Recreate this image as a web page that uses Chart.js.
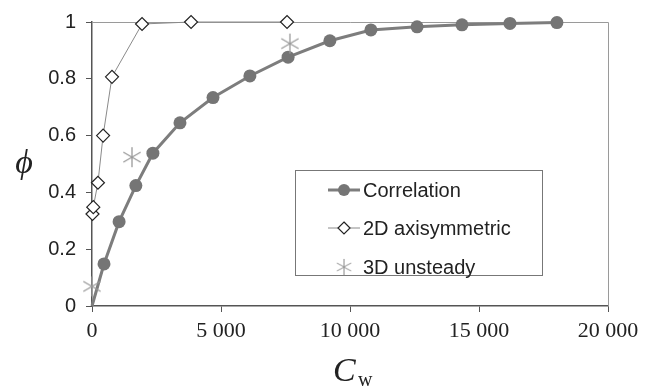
<!DOCTYPE html>
<html>
<head>
<meta charset="utf-8">
<script src="https://cdn.jsdelivr.net/npm/chart.js@4/dist/chart.umd.min.js"></script>
<style>
  html, body { margin: 0; padding: 0; background: #fff; }
  #wrap { width: 649px; height: 389px; }
</style>
</head>
<body>
<div id="wrap"><canvas id="phiChart" width="649" height="389"></canvas></div>
<script>
// series values
const corrX = [0, 465, 1050, 1700, 2360, 3410, 4690, 6120, 7600, 9220, 10810, 12600, 14340, 16200, 18020];
const corrY = [0, 0.148, 0.297, 0.424, 0.538, 0.645, 0.734, 0.81, 0.876, 0.934, 0.972, 0.983, 0.99, 0.995, 0.998];
const axiX = [20, 50, 230, 430, 775, 1940, 3840, 7560];
const axiY = [0.324, 0.348, 0.434, 0.6, 0.807, 0.993, 1, 1];
const unsX = [0, 1550, 7670];
const unsY = [0.069, 0.524, 0.924];
const seriesNames = ["Correlation", "2D axisymmetric", "3D unsteady"];
const xTicks = [0, 5000, 10000, 15000, 20000];
const yTicks = [0, 0.2, 0.4, 0.6, 0.8, 1];

const toPoints = (xs, ys) => xs.map((x, i) => ({ x, y: ys[i] }));

// 6-armed asterisk used for the 3D unsteady markers
function makeAsterisk(size, color) {
  const c = document.createElement("canvas");
  c.width = size; c.height = size;
  const g = c.getContext("2d");
  const r = size / 2 - 1;
  g.strokeStyle = color;
  g.lineWidth = 1.3;
  g.beginPath();
  [90, 30, 150].forEach(deg => {
    const a = deg * Math.PI / 180;
    g.moveTo(size / 2 - r * Math.cos(a), size / 2 - r * Math.sin(a));
    g.lineTo(size / 2 + r * Math.cos(a), size / 2 + r * Math.sin(a));
  });
  g.stroke();
  return c;
}
const asterisk = makeAsterisk(22, "#9a9a9a");

const corrColor = "#7d7d7d";
const axiLine = "#8a8a8a";

// frame, custom legend and math-style titles
const decorPlugin = {
  id: "decor",
  beforeDatasetsDraw(chart) {
    const { ctx, chartArea: { left, right, top, bottom } } = chart;
    ctx.save();
    ctx.strokeStyle = "#9a9a9a";
    ctx.lineWidth = 1;
    ctx.beginPath();
    ctx.moveTo(left, top + 0.5);
    ctx.lineTo(right + 0.5, top + 0.5);
    ctx.lineTo(right + 0.5, bottom);
    ctx.stroke();
    ctx.restore();
  },
  afterDraw(chart) {
    const { ctx, chartArea: { left, right, top, bottom } } = chart;
    ctx.save();

    // legend box
    const bx = 295, by = 170, bw = 247, bh = 105;
    ctx.fillStyle = "#fff";
    ctx.fillRect(bx, by, bw, bh);
    ctx.strokeStyle = "#777";
    ctx.lineWidth = 1;
    ctx.strokeRect(bx + 0.5, by + 0.5, bw, bh);

    const rows = [190, 228, 267];
    const sx0 = 328, sx1 = 360, mx = 344;
    // correlation sample
    ctx.strokeStyle = corrColor;
    ctx.lineWidth = 3;
    ctx.beginPath(); ctx.moveTo(sx0, rows[0]); ctx.lineTo(sx1, rows[0]); ctx.stroke();
    ctx.fillStyle = "#757575";
    ctx.beginPath(); ctx.arc(mx, rows[0], 6, 0, Math.PI * 2); ctx.fill();
    // 2D sample
    ctx.strokeStyle = axiLine;
    ctx.lineWidth = 1;
    ctx.beginPath(); ctx.moveTo(sx0, rows[1]); ctx.lineTo(sx1, rows[1]); ctx.stroke();
    ctx.fillStyle = "#fff";
    ctx.strokeStyle = "#222";
    ctx.lineWidth = 1.2;
    ctx.beginPath();
    ctx.moveTo(mx, rows[1] - 6); ctx.lineTo(mx + 6, rows[1]);
    ctx.lineTo(mx, rows[1] + 6); ctx.lineTo(mx - 6, rows[1]);
    ctx.closePath(); ctx.fill(); ctx.stroke();
    // 3D sample
    ctx.drawImage(asterisk, mx - 9, rows[2] - 9, 18, 18);

    ctx.fillStyle = "#222";
    ctx.font = '20px "Liberation Sans", Arial, sans-serif';
    ctx.textBaseline = "middle";
    ctx.textAlign = "left";
    seriesNames.forEach((name, i) => ctx.fillText(name, 363, rows[i] + 1));

    // y title: phi
    ctx.font = 'italic 34px "Liberation Serif", "DejaVu Serif", serif';
    ctx.textAlign = "center";
    ctx.fillText("\u03D5", 24, (top + bottom) / 2);

    // x title: C_w
    ctx.font = 'italic 34px "Liberation Serif", serif';
    ctx.textAlign = "left";
    ctx.textBaseline = "alphabetic";
    ctx.fillText("C", 333, 381);
    ctx.font = '20px "Liberation Serif", serif';
    ctx.fillText("w", 358, 386);

    ctx.restore();
  }
};

new Chart(document.getElementById("phiChart"), {
  type: "scatter",
  data: {
    datasets: [
      {
        label: seriesNames[0],
        data: toPoints(corrX, corrY),
        showLine: true,
        clip: false,
        borderColor: corrColor,
        borderWidth: 3,
        backgroundColor: "#757575",
        pointBorderColor: "#757575",
        pointRadius: c => (c.dataIndex === 0 ? 0 : 6.5),
        pointBorderWidth: 0,
        tension: 0,
        order: 3
      },
      {
        label: seriesNames[1],
        data: toPoints(axiX, axiY),
        showLine: true,
        clip: false,
        borderColor: axiLine,
        borderWidth: 1,
        pointStyle: "rectRot",
        pointRadius: 6.5,
        pointBackgroundColor: "#fff",
        pointBorderColor: "#222",
        pointBorderWidth: 1.2,
        order: 2
      },
      {
        label: seriesNames[2],
        data: toPoints(unsX, unsY),
        showLine: false,
        clip: false,
        pointStyle: asterisk,
        pointRadius: 11,
        order: 1
      }
    ]
  },
  options: {
    responsive: false,
    animation: false,
    layout: { padding: { top: 16, right: 41, left: 0, bottom: 0 } },
    plugins: {
      legend: { display: false },
      tooltip: { enabled: false }
    },
    scales: {
      x: {
        type: "linear",
        min: xTicks[0],
        max: xTicks[xTicks.length - 1],
        afterBuildTicks: s => { s.ticks = xTicks.map(v => ({ value: v })); },
        afterFit: s => { s.height = 83; },
        grid: { drawOnChartArea: false, drawTicks: true, tickLength: 6, color: "#555" },
        border: { display: true, color: "#555", width: 1.5 },
        ticks: {
          color: "#222",
          padding: 6,
          font: { family: '"Liberation Serif", "Times New Roman", serif', size: 22 },
          callback: v => String(v).replace(/\B(?=(\d{3})+(?!\d))/g, " ")
        }
      },
      y: {
        type: "linear",
        min: yTicks[0],
        max: yTicks[yTicks.length - 1],
        afterBuildTicks: s => { s.ticks = yTicks.map(v => ({ value: v })); },
        afterFit: s => { s.width = 92; },
        grid: { drawOnChartArea: false, drawTicks: true, tickLength: 6, color: "#555" },
        border: { display: true, color: "#555", width: 1.5 },
        ticks: {
          color: "#222",
          padding: 10,
          font: { family: '"Liberation Sans", Arial, sans-serif', size: 20 },
          callback: v => String(Math.round(v * 10) / 10)
        }
      }
    }
  },
  plugins: [decorPlugin]
});
</script>
</body>
</html>
